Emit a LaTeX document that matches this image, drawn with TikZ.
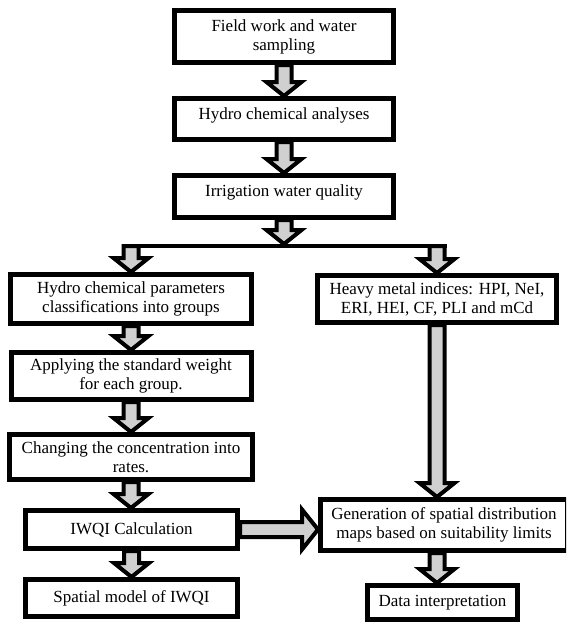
\documentclass[tikz,border=0pt]{standalone}
\usepackage{fontspec}
\setmainfont{Liberation Serif}
\usetikzlibrary{calc,backgrounds}
\definecolor{arrowgray}{RGB}{208,208,208}
\newcommand\vblock[2]{%
  \draw[blockarrow] let \p1=#1, \p2=#2 in
    (\x1-7.5pt,\y1) -- (\x1-7.5pt,\y2+14pt) -- (\x1-17.5pt,\y2+14pt) -- (\x1,\y2)
    -- (\x1+17.5pt,\y2+14pt) -- (\x1+7.5pt,\y2+14pt) -- (\x1+7.5pt,\y1) -- cycle;}
\newcommand\hblock[2]{%
  \draw[blockarrow] let \p1=#1, \p2=#2 in
    (\x1,\y1+7.5pt) -- (\x2-16pt,\y1+7.5pt) -- (\x2-16pt,\y1+20pt) -- (\x2,\y1)
    -- (\x2-16pt,\y1-20pt) -- (\x2-16pt,\y1-7.5pt) -- (\x1,\y1-7.5pt) -- cycle;}
\tikzset{
  box/.style={draw, line width=5pt, fill=white, align=center, inner sep=1pt,
    font=\fontsize{17}{19}\selectfont},
  blockarrow/.style={draw, line width=4pt, fill=arrowgray, line join=miter, miter limit=10},
  splitline/.style={draw, line width=4pt}
}
\begin{document}
\begin{tikzpicture}[x=1pt,y=-1pt]
\useasboundingbox (0,0) rectangle (566,625);
\clip (0,0) rectangle (566,625);
% top column
\node[box, minimum width=219pt, minimum height=52pt] (f1) at (284,36.5) {Field work and water\\sampling};
\node[box, minimum width=219pt, minimum height=41pt] (f2) at (284,119) {\raisebox{4pt}[\height][\depth]{Hydro chemical analyses}};
\node[box, minimum width=219pt, minimum height=42pt] (f3) at (284,196.5) {\raisebox{4pt}[\height][\depth]{Irrigation water quality}};
% left column
\node[box, minimum width=241pt, minimum height=49pt] (l1) at (131,299) {Hydro chemical parameters\\classifications into groups};
\node[box, minimum width=240pt, minimum height=47pt] (l2) at (131,376) {Applying the standard weight\\for each group.};
\node[box, minimum width=243pt, minimum height=45pt] (l3) at (131,457) {Changing the concentration into\\rates.};
\node[box, minimum width=212pt, minimum height=38pt] (l4) at (131.5,529.5) {IWQI Calculation};
\node[box, minimum width=212pt, minimum height=37pt] (l5) at (131.5,598) {Spatial model of IWQI};
% right column
\node[box, minimum width=239pt, minimum height=47pt] (r1) at (437,299) {Heavy metal indices: HPI, NeI,\\ERI, HEI, CF, PLI and mCd};
\node[box, minimum width=247pt, minimum height=51pt] (r2) at (444,525) {Generation of spatial distribution\\maps based on suitability limits};
\node[box, minimum width=150pt, minimum height=34pt] (r3) at (442.5,602.5) {Data interpretation};
% split coordinates
\coordinate (split) at (284,246);
\coordinate (sl) at (l1.north |- split);
\coordinate (sr) at (r1.north |- split);
\begin{scope}[on background layer]
  \vblock{(f1.south)}{(f2.north)}
  \vblock{(f2.south)}{(f3.north)}
  \vblock{(f3.south)}{($(split)+(0,-2)$)}
  \vblock{(sl)}{(l1.north)}
  \vblock{(sr)}{(r1.north)}
  \vblock{(l1.south)}{(l2.north)}
  \vblock{(l2.south)}{(l3.north)}
  \vblock{(l3.south)}{(l4.north)}
  \vblock{(l4.south)}{(l5.north)}
  \vblock{(r1.south)}{(r2.north)}
  \vblock{(r1.south |- r2.south)}{(r3.north)}
  \hblock{(l4.east)}{(r2.west)}
  \draw[splitline] ($(sl)+(-9.5,0)$) -- ($(sr)+(9.5,0)$);
\end{scope}
\end{tikzpicture}
\end{document}
